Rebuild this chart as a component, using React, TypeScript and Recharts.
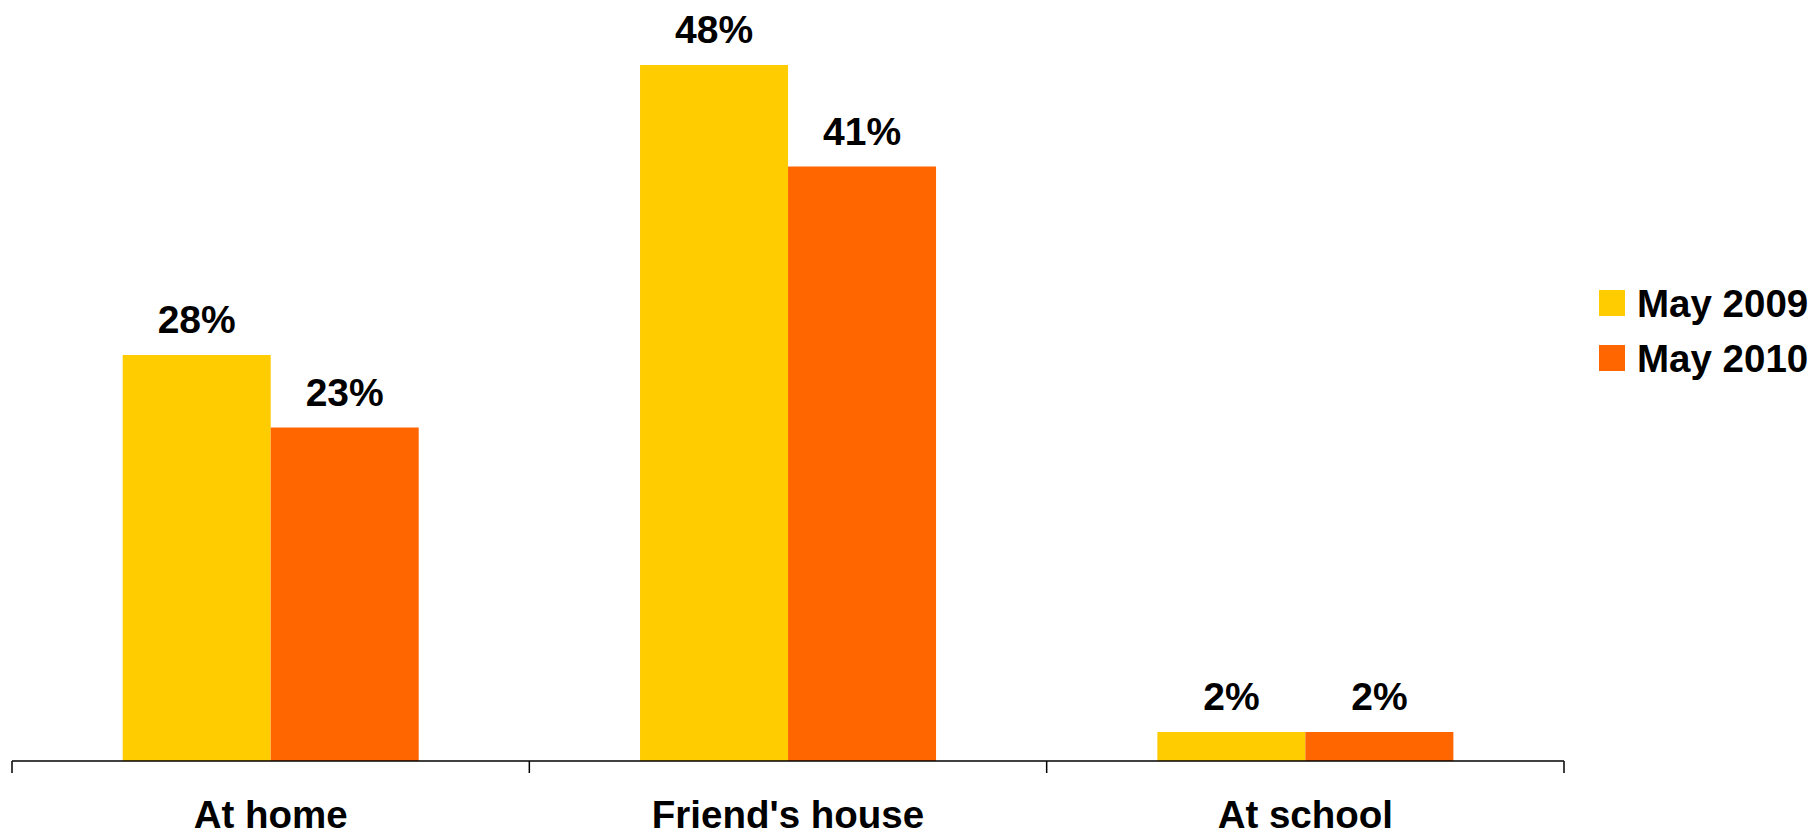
import React from 'react';
import { BarChart, Bar, XAxis, YAxis, LabelList, Legend } from 'recharts';

const categories = ['At home', "Friend's house", 'At school'];
const may2009 = [28, 48, 2];
const may2010 = [23, 41, 2];
const seriesNames = ['May 2009', 'May 2010'];
const colors = ['#FFCC00', '#FF6600'];

const data = categories.map((c, i) => ({ name: c, a: may2009[i], b: may2010[i] }));

const FONT = '"Liberation Sans", Arial, sans-serif';

const CatTick = (props: any) => {
  const { x, y, payload, index, visibleTicksCount } = props;
  const half = payload && typeof payload.offset === 'number' ? payload.offset : 0;
  const isLast = index === (visibleTicksCount ?? categories.length) - 1;
  return (
    <g>
      <line x1={x - half} x2={x - half} y1={y} y2={y + 12} stroke="#000" strokeWidth={1.5} />
      {isLast && <line x1={x + half} x2={x + half} y1={y} y2={y + 12} stroke="#000" strokeWidth={1.5} />}
      <text x={x} y={y + 67} textAnchor="middle" fontFamily={FONT} fontWeight="bold" fontSize={38.5} fill="#000">
        {payload.value}
      </text>
    </g>
  );
};

const LegendContent = (props: any) => {
  const items = props.payload || [];
  return (
    <div style={{ fontFamily: FONT, fontWeight: 'bold', fontSize: 38.5, color: '#000' }}>
      {items.map((it: any, i: number) => (
        <div key={i} style={{ display: 'flex', alignItems: 'center', height: 55 }}>
          <div style={{ width: 26, height: 26, background: it.color, marginRight: 12 }} />
          <span style={{ lineHeight: '55px' }}>{it.value}</span>
        </div>
      ))}
    </div>
  );
};

export default function App() {
  return (
    <div style={{ position: 'absolute', left: 0, top: 0, width: 1815, height: 837, background: '#fff' }}>
      <BarChart
        width={1815}
        height={837}
        data={data}
        margin={{ top: 36, right: 251, left: 12, bottom: 0 }}
        barCategoryGap="21.4%"
        barGap={0}
      >
        <XAxis
          dataKey="name"
          height={76}
          axisLine={{ stroke: '#000', strokeWidth: 1.5 }}
          tickLine={false}
          tickSize={0}
          tickMargin={0}
          interval={0}
          tick={<CatTick />}
        />
        <YAxis hide domain={[0, 50]} />
        <Legend
          layout="horizontal"
          verticalAlign="middle"
          align="center"
          content={<LegendContent />}
          wrapperStyle={{ left: 1599, top: 275.5, width: 216, height: 110 }}
        />
        <Bar dataKey="a" name={seriesNames[0]} fill={colors[0]} isAnimationActive={false}>
          <LabelList dataKey="a" position="top" offset={22} formatter={(v: any) => `${v}%`}
            style={{ fontFamily: FONT, fontWeight: 'bold', fontSize: 39, fill: '#000' }} />
        </Bar>
        <Bar dataKey="b" name={seriesNames[1]} fill={colors[1]} isAnimationActive={false}>
          <LabelList dataKey="b" position="top" offset={22} formatter={(v: any) => `${v}%`}
            style={{ fontFamily: FONT, fontWeight: 'bold', fontSize: 39, fill: '#000' }} />
        </Bar>
      </BarChart>
    </div>
  );
}
